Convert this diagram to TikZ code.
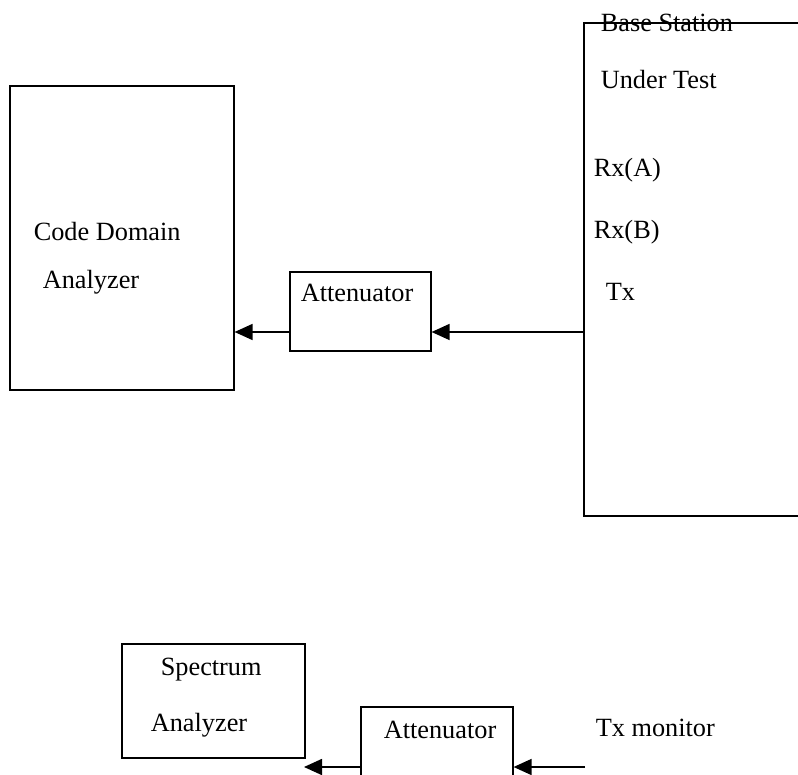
\documentclass[tikz,border=0pt]{standalone}
\usepackage{fontspec}
\setmainfont{Liberation Serif}
\usetikzlibrary{arrows.meta}
\begin{document}
\begin{tikzpicture}[x=1pt,y=-1pt,
  line width=1.6pt,
  blk/.style={draw,rectangle,anchor=north west,inner sep=0pt,line width=1.6pt},
  lbl/.style={anchor=base west,inner sep=0pt,font=\fontsize{26.3}{31}\selectfont},
  conn/.style={-{Triangle[length=18pt,width=16pt]},line width=1.6pt}]
\clip (0,0) rectangle (798,775);
% Code domain analyzer
\node[blk,minimum width=224pt,minimum height=304pt] (cda) at (9,85) {};
\node[lbl] (cdat1) at (33,241) {Code Domain};
\node[lbl] (cdat2) at (42,289) {Analyzer};
% Attenuator (top)
\node[blk,minimum width=141pt,minimum height=79pt] (att1) at (289,271) {};
\node[lbl] (att1t) at (300,302) {Attenuator};
% Base station (open on the right)
\draw[line width=1.6pt] (798,23) -- (584,23) -- (584,516) -- (798,516);
\coordinate (bs) at (584,332);
\node[lbl] (bst1) at (600,32) {Base Station};
\node[lbl] (bst2) at (600,89) {Under Test};
\node[lbl] (rxa) at (593,177) {Rx(A)};
\node[lbl] (rxb) at (593,239) {Rx(B)};
\node[lbl] (tx) at (605,301) {Tx};
\draw[conn] (bs) -- (att1.east |- bs);
\draw[conn] (att1.west |- bs) -- (cda.east |- bs);
% Spectrum analyzer
\node[blk,minimum width=183pt,minimum height=114pt] (sa) at (121,643) {};
\node[lbl] (sat1) at (160,675) {Spectrum};
\node[lbl] (sat2) at (150,731) {Analyzer};
% Attenuator (bottom)
\node[blk,minimum width=152pt,minimum height=100pt] (att2) at (360,706) {};
\node[lbl] (att2t) at (383,738) {Attenuator};
\node[lbl] (txm) at (595,736) {Tx monitor};
\coordinate (txmin) at (585,767);
\draw[conn] (txmin) -- (att2.east |- txmin);
\draw[conn] (att2.west |- txmin) -- (304,767);
\end{tikzpicture}
\end{document}
